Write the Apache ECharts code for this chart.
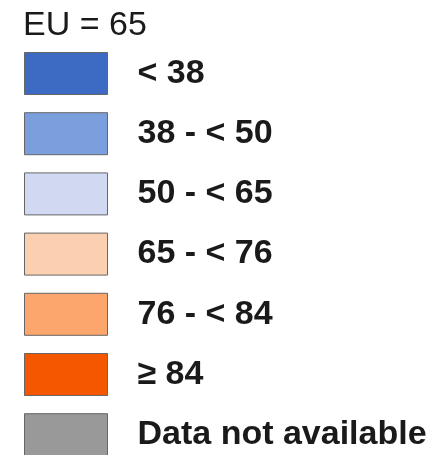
<!DOCTYPE html>
<html>
<head>
<meta charset="utf-8">
<script src="https://cdn.jsdelivr.net/npm/echarts@6/dist/echarts.min.js"></script>
<style>html,body{margin:0;padding:0;background:#fff}#c{width:442px;height:455px}</style>
</head>
<body>
<div id="c"></div>
<script>
const titleText = 'EU = 65';
const classLabels = ['< 38', '38 - < 50', '50 - < 65', '65 - < 76', '76 - < 84', '≥ 84', 'Data not available'];
const classColors = ['#3d6bc4', '#7b9fdc', '#d0d9f1', '#fbd0b0', '#fca56c', '#f55600', '#999999'];

const chart = echarts.init(document.getElementById('c'), null, {renderer: 'canvas'});
chart.setOption({
  animation: false,
  backgroundColor: '#ffffff',
  title: {
    text: titleText,
    left: 23,
    top: 7,
    padding: [2, 0, 0, 0],
    textStyle: {fontFamily: 'Liberation Sans, Arial, sans-serif', fontSize: 34, fontWeight: 'normal', color: '#1a1a1a'}
  },
  grid: {show: false, left: -100, top: -100, width: 10, height: 10},
  xAxis: {show: false, type: 'category', data: ['a']},
  yAxis: {show: false, type: 'value'},
  legend: {
    orient: 'vertical',
    left: 24,
    top: 52,
    height: 600,
    padding: 0,
    itemWidth: 83,
    itemHeight: 42,
    itemGap: 17.2,
    icon: 'rect',
    selectedMode: false,
    itemStyle: {borderColor: '#666666', borderWidth: 1},
    textStyle: {fontFamily: 'Liberation Sans, Arial, sans-serif', fontSize: 34, fontWeight: 'bold', color: '#1a1a1a', padding: [0, 0, 0, 25]},
    data: classLabels
  },
  series: classLabels.map((name, i) => ({
    name: name,
    type: 'bar',
    data: [],
    itemStyle: {color: classColors[i], borderColor: '#666666', borderWidth: 1}
  }))
});
</script>
</body>
</html>
